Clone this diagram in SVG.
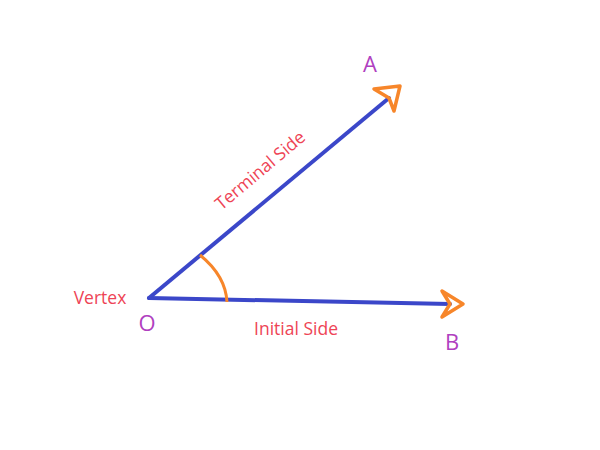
<svg xmlns="http://www.w3.org/2000/svg" width="600" height="450" viewBox="0 0 600 450">
<style>
.ray{stroke:#3b47c9;stroke-width:4;stroke-linecap:round;fill:none}
.head{stroke:#f7862a;stroke-width:3.5;fill:none;stroke-linejoin:round}
.arc{stroke:#f7862a;stroke-width:3;fill:none}
.pt{font-family:"Open Sans","Noto Sans",sans-serif;font-size:22px;fill:#b040c0}
.lbl{font-family:"Open Sans","Noto Sans",sans-serif;font-size:17.5px;fill:#ee4455}
</style>
<rect width="600" height="450" fill="#fff"/>
<g id="connectors">
<line class="ray" x1="149" y1="298" x2="389" y2="98"/>
<line class="ray" x1="149" y1="298" x2="450" y2="304"/>
<path class="arc" d="M200,255 C216,268 226,283 227,302"/>
</g>
<g id="arrowA"><path class="head" d="M374,89 L400,86 L394,111 L389,98 Z"/></g>
<g id="arrowB"><path class="head" d="M442,291 L463,304 L442,317 L450,304 Z"/></g>
<g id="labels">
<text class="pt" x="370" y="72" text-anchor="middle">A</text>
<text class="pt" x="452" y="350" text-anchor="middle">B</text>
<text class="pt" x="147" y="331" text-anchor="middle">O</text>
<text class="lbl" x="100" y="304" text-anchor="middle">Vertex</text>
<text class="lbl" x="296" y="335" text-anchor="middle">Initial Side</text>
<text class="lbl" x="0" y="0" text-anchor="middle" transform="translate(264,175) rotate(-40)">Terminal Side</text>
</g>
</svg>
